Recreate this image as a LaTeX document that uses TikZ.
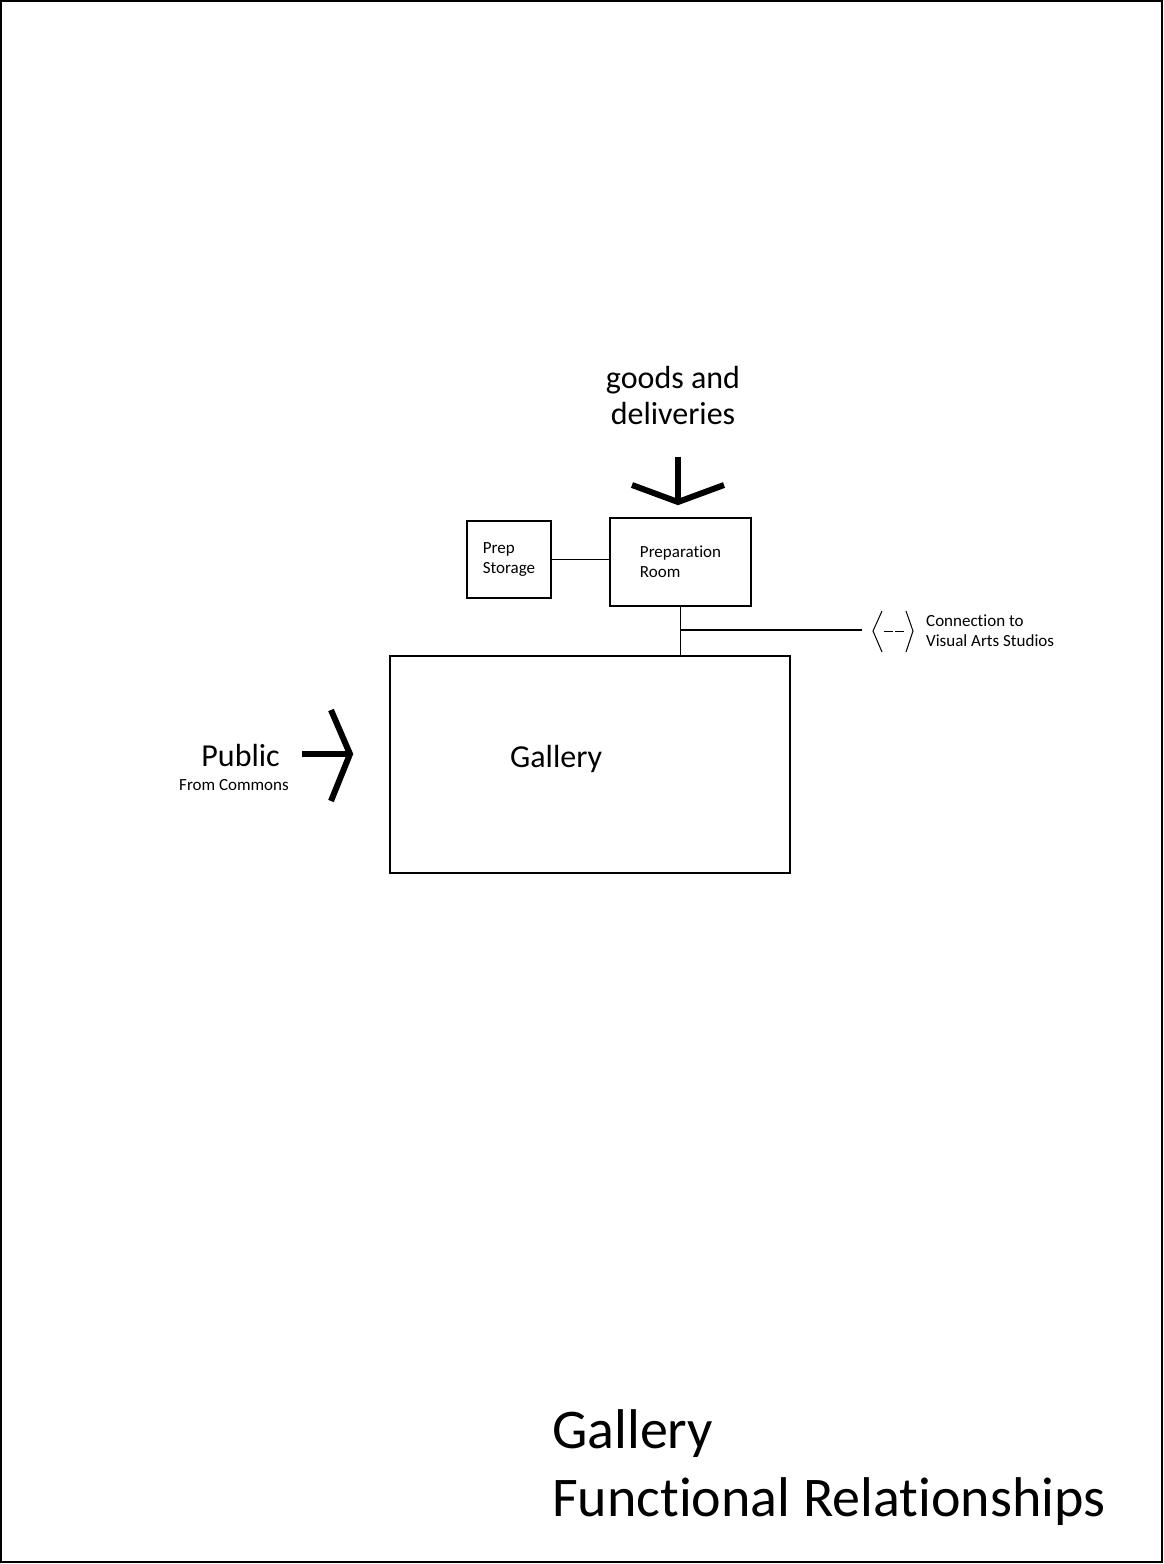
\documentclass[tikz,border=0pt]{standalone}
\usepackage{fontspec}
\setmainfont{Carlito}[Ligatures={NoCommon}]
\begin{document}
\begin{tikzpicture}[x=1pt,y=-1pt,
  room/.style={draw, line width=1.1pt, inner sep=0pt, align=left},
  link/.style={line width=1.1pt},
  flow/.style={line width=6pt},
  small/.style={font=\fontsize{17}{20}\selectfont},
  mid/.style={font=\fontsize{32}{36}\selectfont},
  big/.style={font=\fontsize{56}{68}\selectfont}]
\useasboundingbox (0,0) rectangle (1163,1564);
% sheet frame
\draw[line width=1.5pt] (1,1) rectangle (1162,1562);

% rooms
\node[room, minimum width=84pt, minimum height=77pt, small] (store) at (509,559.5) {Prep\\Storage};
\node[room, minimum width=141pt, minimum height=88pt, small] (prep) at (680.5,562) {Preparation\\Room};
\node[room, minimum width=400pt, minimum height=217pt] (gal) at (590,764.5) {};
\node[mid, anchor=base west, inner sep=0pt] (galtext) at (510,767) {Gallery};

% links between rooms
\draw[link] (store.east) -- (store.east -| prep.west);
\coordinate (tee) at (prep.south |- 0,630);
\draw[link] (prep.south) -- (gal.north -| prep.south);
\coordinate (studio) at (862,630);
\draw[link] (tee) -- (studio);

% connection symbol to studios
\draw[line width=1pt] (882,611) -- (873,631) -- (882,652);
\draw[line width=1pt] (884,631) -- (893,631);
\draw[line width=1pt] (895,631) -- (904,631);
\draw[line width=1pt] (906,611) -- (913,631) -- (906,652);
\node[small, anchor=base west, inner sep=0pt, align=left] (studtext) at (926,646) {Connection to\\Visual Arts Studios};

% goods entry
\coordinate (gtop) at (678,457);
\coordinate (gtip) at (678,502);
\draw[flow] (gtop) -- (gtip);
\draw[flow, line join=miter] (632,485) -- (gtip) -- (724,485);
\node[mid, align=center, anchor=base, inner sep=0pt] (goods) at (673,424) {goods and\\deliveries};

% public entry
\coordinate (ptail) at (302,754);
\coordinate (ptip) at (350,754);
\draw[flow] (ptail) -- (ptip);
\draw[flow, line join=miter] (331,710) -- (ptip) -- (331,801);
\node[mid, anchor=base east, inner sep=0pt] (public) at (280,766) {Public};
\node[small, anchor=base east, inner sep=0pt] (commons) at (289,790) {From Commons};

% title
\node[big, anchor=base west, inner sep=0pt, align=left] (title) at (552,1516) {Gallery\\Functional Relationships};
\end{tikzpicture}
\end{document}
